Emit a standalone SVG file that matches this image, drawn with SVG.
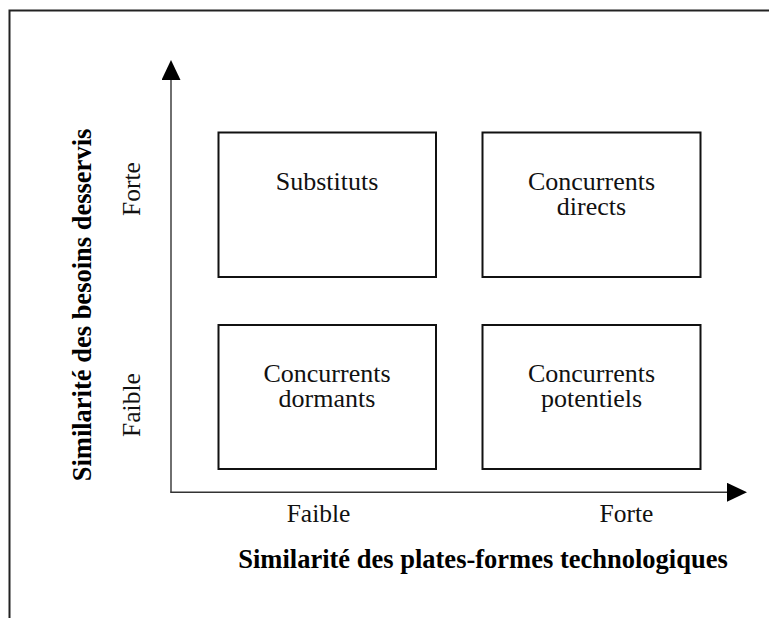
<svg xmlns="http://www.w3.org/2000/svg" width="769" height="618" viewBox="0 0 769 618">
<style>
  .box { fill: #fff; stroke: #111; stroke-width: 2; }
  .axis { stroke: #333; stroke-width: 1.4; fill: none; }
  .lbl { font-family: "Liberation Serif", "Times New Roman", serif; font-size: 26px; fill: #111; text-anchor: middle; }
  .tick { font-family: "Liberation Serif", "Times New Roman", serif; font-size: 25.5px; fill: #111; text-anchor: middle; }
  .title { font-family: "Liberation Serif", "Times New Roman", serif; font-size: 26.5px; font-weight: bold; fill: #000; text-anchor: middle; }
</style>
<defs>
  <marker id="arrow" markerUnits="userSpaceOnUse" markerWidth="21" markerHeight="20" refX="0" refY="9.5" orient="auto">
    <path d="M0,0 L20,9.5 L0,19 z" fill="#000"/>
  </marker>
</defs>
<rect width="769" height="618" fill="#fff"/>
<path d="M9.5,618 V10.5 H769" fill="none" stroke="#222" stroke-width="2"/>
<g id="connectors">
  <line class="axis" x1="171" y1="492.5" x2="171" y2="80" marker-end="url(#arrow)"/>
  <line class="axis" x1="170.3" y1="492.3" x2="727" y2="492.3" marker-end="url(#arrow)"/>
</g>
<g id="substituts">
  <rect class="box" x="218.5" y="132.5" width="217.5" height="144.5"/>
  <text class="lbl" x="327" y="190">Substituts</text>
</g>
<g id="concurrents-directs">
  <rect class="box" x="482.5" y="132.5" width="218" height="144.5"/>
  <text class="lbl" x="591.5" y="190">Concurrents</text>
  <text class="lbl" x="591.5" y="215">directs</text>
</g>
<g id="concurrents-dormants">
  <rect class="box" x="218.5" y="325" width="217.5" height="144"/>
  <text class="lbl" x="327" y="381.5">Concurrents</text>
  <text class="lbl" x="327" y="406.5">dormants</text>
</g>
<g id="concurrents-potentiels">
  <rect class="box" x="482.5" y="325" width="218" height="144"/>
  <text class="lbl" x="591.5" y="381.5">Concurrents</text>
  <text class="lbl" x="591.5" y="406.5">potentiels</text>
</g>
<g id="x-labels">
  <text class="tick" x="318.5" y="521.5">Faible</text>
  <text class="tick" x="626.5" y="521.5">Forte</text>
  <text class="title" x="483" y="568">Similarité des plates-formes technologiques</text>
</g>
<g id="y-labels">
  <text class="tick" transform="translate(139.5,189) rotate(-90)">Forte</text>
  <text class="tick" transform="translate(139.5,405) rotate(-90)">Faible</text>
  <text class="title" transform="translate(91,305) rotate(-90)">Similarité des besoins desservis</text>
</g>
</svg>
